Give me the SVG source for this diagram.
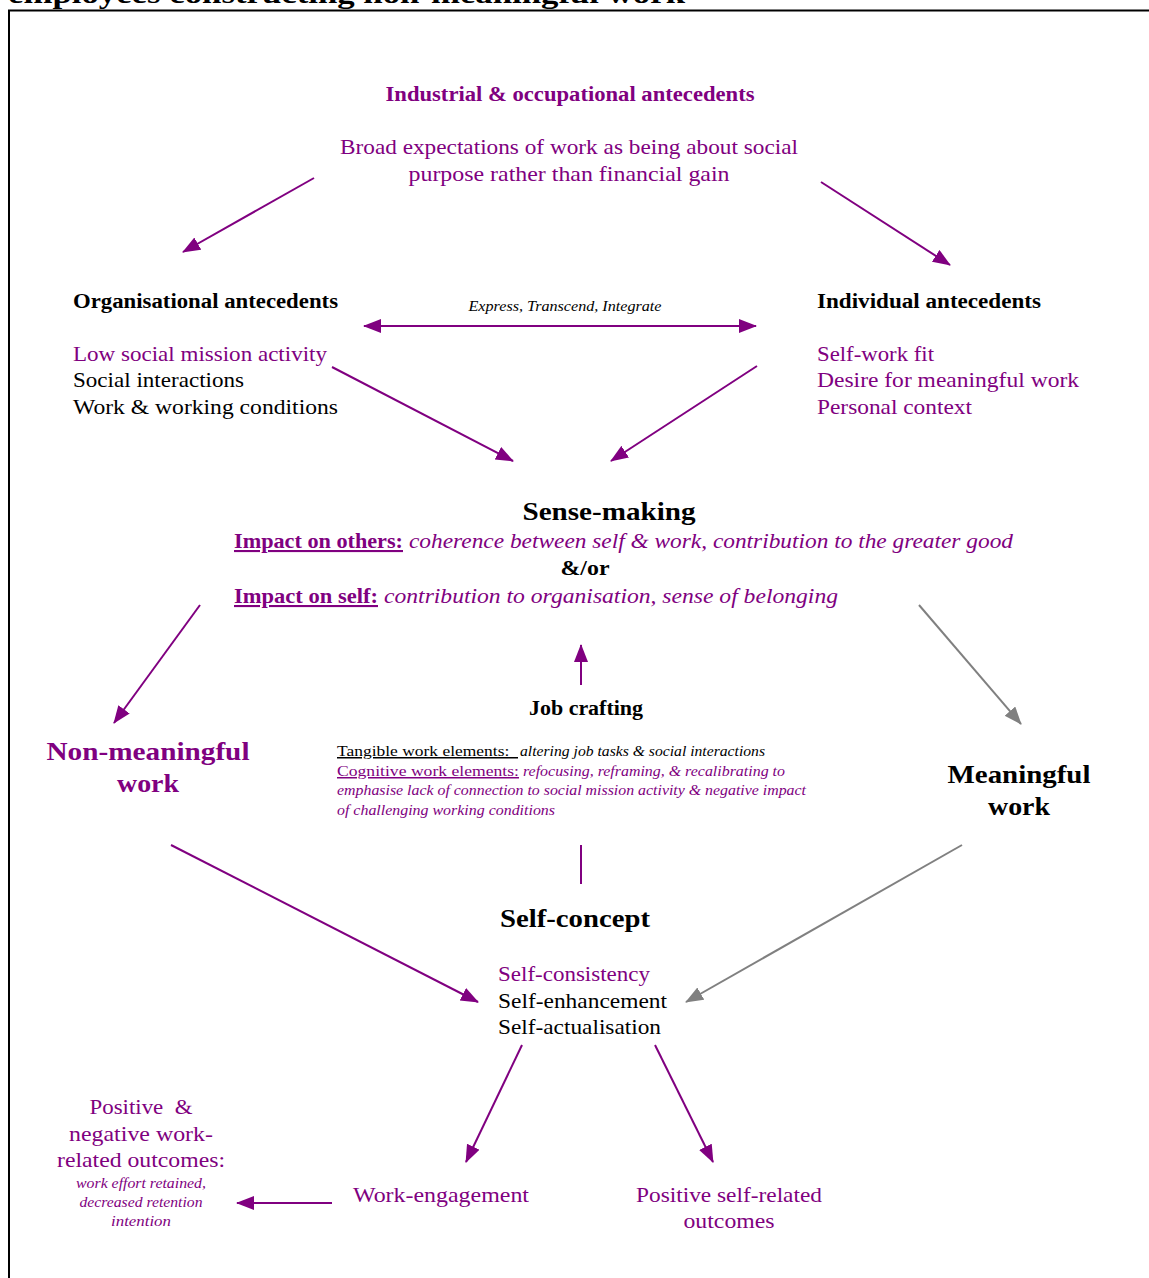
<svg xmlns="http://www.w3.org/2000/svg" width="1149" height="1278" viewBox="0 0 1149 1278">
<style>
text{font-family:"Liberation Serif","DejaVu Serif",serif;}
.p{fill:#800080;}
.k{fill:#000;}
.b{font-weight:bold;}
.i{font-style:italic;}
.c{text-anchor:middle;}
.m{font-size:21px;}
.s{font-size:15px;}
.h{font-size:20px;font-weight:bold;}
.big{font-size:26px;font-weight:bold;}
.lp{stroke:#800080;stroke-width:2;fill:none;marker-end:url(#ap);}
.lg{stroke:#808080;stroke-width:2;fill:none;marker-end:url(#ag);}
</style>
<defs>
<marker id="ap" markerUnits="userSpaceOnUse" markerWidth="20" markerHeight="16" refX="17" refY="7" orient="auto"><path d="M0,0 L18,7 L0,14 Z" fill="#800080"/></marker>
<marker id="ag" markerUnits="userSpaceOnUse" markerWidth="20" markerHeight="16" refX="17" refY="7" orient="auto"><path d="M0,0 L18,7 L0,14 Z" fill="#808080"/></marker>
<marker id="aps" markerUnits="userSpaceOnUse" markerWidth="20" markerHeight="16" refX="1" refY="7" orient="auto"><path d="M18,0 L0,7 L18,14 Z" fill="#800080"/></marker>
</defs>
<rect width="1149" height="1278" fill="#fff"/>
<text x="8" y="3" class="b k" font-size="28" textLength="677" lengthAdjust="spacingAndGlyphs">employees constructing non-meaningful work</text>
<path d="M9,1278 V10.5 H1149" stroke="#000" stroke-width="2" fill="none"/>

<g id="connectors">
<line x1="314" y1="178" x2="183" y2="252" class="lp"/>
<line x1="821" y1="182" x2="950" y2="265" class="lp"/>
<line x1="364" y1="326" x2="756" y2="326" stroke="#800080" stroke-width="2" marker-start="url(#aps)" marker-end="url(#ap)"/>
<line x1="332" y1="367" x2="513" y2="461" class="lp"/>
<line x1="757" y1="366" x2="611" y2="461" class="lp"/>
<line x1="200" y1="605" x2="114" y2="723" class="lp"/>
<line x1="919" y1="605" x2="1021" y2="724" class="lg"/>
<line x1="581" y1="685" x2="581" y2="645" class="lp"/>
<line x1="581" y1="845" x2="581" y2="884" stroke="#800080" stroke-width="2"/>
<line x1="171" y1="845" x2="478" y2="1002" class="lp"/>
<line x1="962" y1="845" x2="686" y2="1002" class="lg"/>
<line x1="522" y1="1045" x2="466" y2="1162" class="lp"/>
<line x1="655" y1="1045" x2="713" y2="1162" class="lp"/>
<line x1="332" y1="1203" x2="237" y2="1203" class="lp"/>
</g>

<g id="industrial">
<text x="570" y="101" class="h p c" textLength="369" lengthAdjust="spacingAndGlyphs">Industrial &amp; occupational antecedents</text>
<text x="569" y="154" class="m p c" textLength="458" lengthAdjust="spacingAndGlyphs">Broad expectations of work as being about social</text>
<text x="569" y="181" class="m p c" textLength="321" lengthAdjust="spacingAndGlyphs">purpose rather than financial gain</text>
</g>

<g id="organisational">
<text x="73" y="308" class="h k" textLength="265" lengthAdjust="spacingAndGlyphs">Organisational antecedents</text>
<text x="73" y="361" class="m p" textLength="254" lengthAdjust="spacingAndGlyphs">Low social mission activity</text>
<text x="73" y="387" class="m k" textLength="171" lengthAdjust="spacingAndGlyphs">Social interactions</text>
<text x="73" y="414" class="m k" textLength="265" lengthAdjust="spacingAndGlyphs">Work &amp; working conditions</text>
</g>

<g id="link-label">
<text x="565" y="311" class="s i k c" textLength="193" lengthAdjust="spacingAndGlyphs">Express, Transcend, Integrate</text>
</g>

<g id="individual">
<text x="817" y="308" class="h k" textLength="224" lengthAdjust="spacingAndGlyphs">Individual antecedents</text>
<text x="817" y="361" class="m p" textLength="117" lengthAdjust="spacingAndGlyphs">Self-work fit</text>
<text x="817" y="387" class="m p" textLength="262" lengthAdjust="spacingAndGlyphs">Desire for meaningful work</text>
<text x="817" y="414" class="m p" textLength="155" lengthAdjust="spacingAndGlyphs">Personal context</text>
</g>

<g id="sense-making">
<text x="609" y="520" class="big k c" textLength="173" lengthAdjust="spacingAndGlyphs">Sense-making</text>
<text x="234" y="548" class="b p" font-size="21" textLength="169" lengthAdjust="spacingAndGlyphs" text-decoration="underline">Impact on others:</text>
<text x="409" y="548" class="i p" font-size="21" textLength="604" lengthAdjust="spacingAndGlyphs">coherence between self &amp; work, contribution to the greater good</text>
<text x="585" y="575" class="b k c" font-size="21" textLength="49" lengthAdjust="spacingAndGlyphs">&amp;/or</text>
<text x="234" y="603" class="b p" font-size="21" textLength="144" lengthAdjust="spacingAndGlyphs" text-decoration="underline">Impact on self:</text>
<text x="384" y="603" class="i p" font-size="21" textLength="454" lengthAdjust="spacingAndGlyphs">contribution to organisation, sense of belonging</text>
</g>

<g id="job-crafting">
<text x="586" y="715" class="h k c" textLength="114" lengthAdjust="spacingAndGlyphs">Job crafting</text>
<text x="337" y="756" class="s k" xml:space="preserve" textLength="181" lengthAdjust="spacingAndGlyphs" text-decoration="underline">Tangible work elements:  </text>
<text x="520" y="756" class="s i k" textLength="245" lengthAdjust="spacingAndGlyphs">altering job tasks &amp; social interactions</text>
<text x="337" y="776" class="s p" textLength="182" lengthAdjust="spacingAndGlyphs" text-decoration="underline">Cognitive work elements:</text>
<text x="523" y="776" class="s i p" textLength="262" lengthAdjust="spacingAndGlyphs">refocusing, reframing, &amp; recalibrating to</text>
<text x="337" y="795" class="s i p" textLength="469" lengthAdjust="spacingAndGlyphs">emphasise lack of connection to social mission activity &amp; negative impact</text>
<text x="337" y="815" class="s i p" textLength="218" lengthAdjust="spacingAndGlyphs">of challenging working conditions</text>
</g>

<g id="non-meaningful">
<text x="148" y="760" class="big p c" textLength="203" lengthAdjust="spacingAndGlyphs">Non-meaningful</text>
<text x="148" y="792" class="big p c" textLength="62" lengthAdjust="spacingAndGlyphs">work</text>
</g>

<g id="meaningful">
<text x="1019" y="783" class="big k c" textLength="143" lengthAdjust="spacingAndGlyphs">Meaningful</text>
<text x="1019" y="815" class="big k c" textLength="62" lengthAdjust="spacingAndGlyphs">work</text>
</g>

<g id="self-concept">
<text x="575" y="927" class="big k c" textLength="150" lengthAdjust="spacingAndGlyphs">Self-concept</text>
<text x="498" y="981" class="m p" textLength="152" lengthAdjust="spacingAndGlyphs">Self-consistency</text>
<text x="498" y="1008" class="m k" textLength="169" lengthAdjust="spacingAndGlyphs">Self-enhancement</text>
<text x="498" y="1034" class="m k" textLength="163" lengthAdjust="spacingAndGlyphs">Self-actualisation</text>
</g>

<g id="work-engagement">
<text x="441" y="1202" class="m p c" textLength="176" lengthAdjust="spacingAndGlyphs">Work-engagement</text>
</g>

<g id="self-outcomes">
<text x="729" y="1202" class="m p c" textLength="186" lengthAdjust="spacingAndGlyphs">Positive self-related</text>
<text x="729" y="1228" class="m p c" textLength="91" lengthAdjust="spacingAndGlyphs">outcomes</text>
</g>

<g id="work-outcomes">
<text x="141" y="1114" class="m p c" xml:space="preserve" textLength="103" lengthAdjust="spacingAndGlyphs">Positive  &amp;</text>
<text x="141" y="1141" class="m p c" textLength="144" lengthAdjust="spacingAndGlyphs">negative work-</text>
<text x="141" y="1167" class="m p c" textLength="168" lengthAdjust="spacingAndGlyphs">related outcomes:</text>
<text x="141" y="1188" class="s i p c" textLength="130" lengthAdjust="spacingAndGlyphs">work effort retained,</text>
<text x="141" y="1207" class="s i p c" textLength="123" lengthAdjust="spacingAndGlyphs">decreased retention</text>
<text x="141" y="1226" class="s i p c" textLength="60" lengthAdjust="spacingAndGlyphs">intention</text>
</g>
</svg>
